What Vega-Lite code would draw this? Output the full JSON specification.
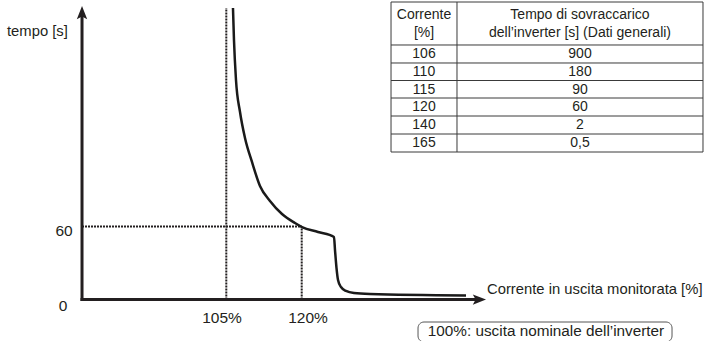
{
  "$schema": "https://vega.github.io/schema/vega-lite/v6.json",
  "width": 704,
  "height": 341,
  "padding": 0,
  "autosize": {"type": "none"},
  "background": "white",
  "config": {"view": {"stroke": null}, "text": {"font": "Liberation Sans", "color": "#231f20"}},
  "encoding": {
    "x": {"field": "corrente", "type": "quantitative", "scale": {"domain": [60, 200], "nice": false, "zero": false}, "axis": null},
    "y": {"field": "tempo", "type": "quantitative", "scale": {"domain": [-34, 246], "nice": false, "zero": false}, "axis": null}
  },
  "layer": [
    {
      "data": {"values": [
        {"tempo": 244.35, "corrente": 137.76, "corrente2": 199.8},
        {"tempo": 209.05, "corrente": 137.76, "corrente2": 199.8},
        {"tempo": 194.27, "corrente": 137.76, "corrente2": 199.8},
        {"tempo": 179.9, "corrente": 137.76, "corrente2": 199.8},
        {"tempo": 165.53, "corrente": 137.76, "corrente2": 199.8},
        {"tempo": 150.75, "corrente": 137.76, "corrente2": 199.8},
        {"tempo": 135.97, "corrente": 137.76, "corrente2": 199.8},
        {"tempo": 121.19, "corrente": 137.76, "corrente2": 199.8}
      ]},
      "mark": {"type": "rule", "color": "#3a3a3a", "strokeWidth": 1},
      "encoding": {"x2": {"field": "corrente2"}}
    },
    {
      "data": {"values": [
        {"corrente": 137.76, "tempo": 121.19, "tempo2": 244.35},
        {"corrente": 150.88, "tempo": 121.19, "tempo2": 244.35},
        {"corrente": 199.8, "tempo": 121.19, "tempo2": 244.35}
      ]},
      "mark": {"type": "rule", "color": "#3a3a3a", "strokeWidth": 1},
      "encoding": {"y2": {"field": "tempo2"}}
    },
    {
      "data": {"values": [
        {"corrente": 144.32, "tempo": 233.68, "testo": "Corrente"},
        {"corrente": 144.32, "tempo": 218.9, "testo": "[%]"},
        {"corrente": 175.34, "tempo": 233.68, "testo": "Tempo di sovraccarico"},
        {"corrente": 175.34, "tempo": 218.9, "testo": "dell’inverter [s] (Dati generali)"},
        {"corrente": 144.32, "tempo": 201.66, "testo": "106"},
        {"corrente": 175.34, "tempo": 201.66, "testo": "900"},
        {"corrente": 144.32, "tempo": 186.88, "testo": "110"},
        {"corrente": 175.34, "tempo": 186.88, "testo": "180"},
        {"corrente": 144.32, "tempo": 172.51, "testo": "115"},
        {"corrente": 175.34, "tempo": 172.51, "testo": "90"},
        {"corrente": 144.32, "tempo": 158.14, "testo": "120"},
        {"corrente": 175.34, "tempo": 158.14, "testo": "60"},
        {"corrente": 144.32, "tempo": 143.36, "testo": "140"},
        {"corrente": 175.34, "tempo": 143.36, "testo": "2"},
        {"corrente": 144.32, "tempo": 128.58, "testo": "165"},
        {"corrente": 175.34, "tempo": 128.58, "testo": "0,5"}
      ]},
      "mark": {"type": "text", "fontSize": 14, "align": "center", "baseline": "middle"},
      "encoding": {"text": {"field": "testo"}}
    },
    {
      "data": {"values": [{"tempo": 60, "corrente": 76.31, "corrente2": 120}]},
      "mark": {"type": "rule", "color": "#231f20", "strokeWidth": 2, "strokeDash": [2, 1]},
      "encoding": {"x2": {"field": "corrente2"}}
    },
    {
      "data": {"values": [{"corrente": 105, "tempo": 0, "tempo2": 239.4}, {"corrente": 120, "tempo": 0, "tempo2": 60}]},
      "mark": {"type": "rule", "color": "#231f20", "strokeWidth": 2, "strokeDash": [2, 1]},
      "encoding": {"y2": {"field": "tempo2"}}
    },
    {
      "data": {"values": [{"tempo": 0, "corrente": 76.31, "corrente2": 155.06}]},
      "mark": {"type": "rule", "color": "#231f20", "strokeWidth": 3, "strokeCap": "square"},
      "encoding": {"x2": {"field": "corrente2"}}
    },
    {
      "data": {"values": [{"corrente": 76.31, "tempo": 0, "tempo2": 234.5}]},
      "mark": {"type": "rule", "color": "#231f20", "strokeWidth": 3, "strokeCap": "square"},
      "encoding": {"y2": {"field": "tempo2"}}
    },
    {
      "data": {"values": [{"corrente": 76.31, "tempo": 234.5}]},
      "mark": {"type": "point", "filled": true, "opacity": 1, "color": "#231f20", "size": 256, "shape": "M0,-1L0.65,0.65L0,0.3L-0.65,0.65Z"}
    },
    {
      "data": {"values": [{"corrente": 155.06, "tempo": 0}]},
      "mark": {"type": "point", "filled": true, "opacity": 1, "color": "#231f20", "size": 256, "shape": "M1,0L-0.65,0.65L-0.3,0L-0.65,-0.65Z"}
    },
    {
      "data": {"values": [
        {"corrente": 106.33, "tempo": 239.4},
        {"corrente": 106.53, "tempo": 213.2},
        {"corrente": 106.93, "tempo": 180.3},
        {"corrente": 107.73, "tempo": 154.0},
        {"corrente": 108.72, "tempo": 132.7},
        {"corrente": 110.11, "tempo": 113.0},
        {"corrente": 111.7, "tempo": 93.3},
        {"corrente": 113.69, "tempo": 81.0},
        {"corrente": 116.08, "tempo": 70.3},
        {"corrente": 118.66, "tempo": 62.9},
        {"corrente": 120.06, "tempo": 59.6},
        {"corrente": 123.24, "tempo": 55.5},
        {"corrente": 126.42, "tempo": 51.4},
        {"corrente": 126.62, "tempo": 40.7},
        {"corrente": 126.92, "tempo": 25.9},
        {"corrente": 127.22, "tempo": 16.1},
        {"corrente": 127.81, "tempo": 10.3},
        {"corrente": 128.81, "tempo": 7.1},
        {"corrente": 130.4, "tempo": 5.4},
        {"corrente": 133.58, "tempo": 4.6},
        {"corrente": 152.67, "tempo": 3.4}
      ]},
      "mark": {"type": "line", "color": "#1a1a1a", "strokeWidth": 2.5, "interpolate": "monotone"}
    },
    {
      "data": {"values": [
        {"corrente": 61.39, "tempo": 219.72, "testo": "tempo [s]"},
        {"corrente": 156.85, "tempo": 7.87, "testo": "Corrente in uscita monitorata [%]"}
      ]},
      "mark": {"type": "text", "fontSize": 14.8, "align": "left", "baseline": "middle"},
      "encoding": {"text": {"field": "testo"}}
    },
    {
      "data": {"values": [
        {"corrente": 72.73, "tempo": 56.32, "testo": "60"},
        {"corrente": 72.53, "tempo": -5.26, "testo": "0"},
        {"corrente": 104.15, "tempo": -15.12, "testo": "105%"},
        {"corrente": 121.25, "tempo": -15.12, "testo": "120%"}
      ]},
      "mark": {"type": "text", "fontSize": 15.5, "align": "center", "baseline": "middle"},
      "encoding": {"text": {"field": "testo"}}
    },
    {
      "data": {"values": [{"corrente": 143.13, "corrente2": 193.64, "tempo": -18.4, "tempo2": -34.8}]},
      "mark": {"type": "rect", "fill": "white", "stroke": "#555555", "strokeWidth": 1, "cornerRadius": 6},
      "encoding": {"x2": {"field": "corrente2"}, "y2": {"field": "tempo2"}}
    },
    {
      "data": {"values": [{"corrente": 168.58, "tempo": -25.79, "testo": "100%: uscita nominale dell’inverter"}]},
      "mark": {"type": "text", "fontSize": 15.3, "align": "center", "baseline": "middle"},
      "encoding": {"text": {"field": "testo"}}
    }
  ]
}
